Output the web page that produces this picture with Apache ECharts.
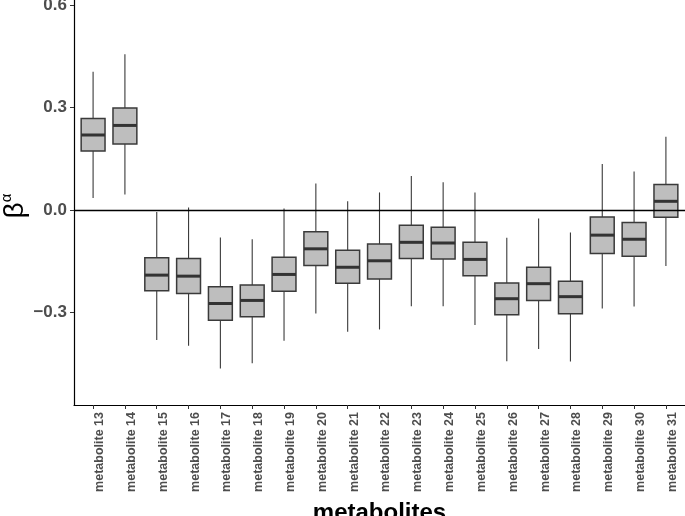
<!DOCTYPE html>
<html>
<head>
<meta charset="utf-8">
<script src="https://cdn.jsdelivr.net/npm/echarts@6/dist/echarts.min.js"></script>
<style>html,body{margin:0;padding:0;background:#fff}#c{width:685px;height:516px}</style>
</head>
<body>
<div id="c"></div>
<script>
const categories = ['metabolite 13','metabolite 14','metabolite 15','metabolite 16','metabolite 17','metabolite 18','metabolite 19','metabolite 20','metabolite 21','metabolite 22','metabolite 23','metabolite 24','metabolite 25','metabolite 26','metabolite 27','metabolite 28','metabolite 29','metabolite 30','metabolite 31'];
const whiskerLow  = [0.036, 0.046, -0.380, -0.397, -0.463, -0.448, -0.382, -0.302, -0.356, -0.349, -0.281, -0.281, -0.336, -0.442, -0.406, -0.443, -0.288, -0.282, -0.163];
const q1          = [0.173, 0.194, -0.236, -0.244, -0.322, -0.312, -0.237, -0.162, -0.214, -0.201, -0.141, -0.143, -0.192, -0.306, -0.264, -0.303, -0.127, -0.135, -0.021];
const median      = [0.220, 0.248, -0.190, -0.193, -0.273, -0.264, -0.188, -0.113, -0.167, -0.148, -0.094, -0.096, -0.144, -0.259, -0.215, -0.253, -0.073, -0.085, 0.026];
const q3          = [0.268, 0.299, -0.139, -0.141, -0.224, -0.219, -0.138, -0.063, -0.117, -0.099, -0.044, -0.050, -0.094, -0.213, -0.167, -0.208, -0.020, -0.036, 0.075];
const whiskerHigh = [0.405, 0.456, -0.005, 0.008, -0.080, -0.085, 0.005, 0.078, 0.026, 0.052, 0.100, 0.082, 0.052, -0.081, -0.024, -0.065, 0.135, 0.113, 0.215];
const yTicks = [-0.3, 0, 0.3, 0.6];

const catIndex = categories.map((c, i) => i);
const boxData = categories.map((c, i) => [i, whiskerLow[i], q1[i], median[i], q3[i], whiskerHigh[i]]);

function renderBox(params, api) {
  const x = api.value(0);
  const pLow = api.coord([x, api.value(1)]);
  const pQ1 = api.coord([x, api.value(2)]);
  const pMed = api.coord([x, api.value(3)]);
  const pQ3 = api.coord([x, api.value(4)]);
  const pHigh = api.coord([x, api.value(5)]);
  const bw = api.size([1, 0])[0] * 0.75;
  const cx = pMed[0];
  const stroke = '#3A3A3A';
  return {
    type: 'group',
    children: [
      { type: 'line', shape: { x1: cx, y1: pHigh[1], x2: cx, y2: pQ3[1] }, style: { stroke: stroke, lineWidth: 1.1 } },
      { type: 'line', shape: { x1: cx, y1: pQ1[1], x2: cx, y2: pLow[1] }, style: { stroke: stroke, lineWidth: 1.1 } },
      { type: 'rect', shape: { x: cx - bw / 2, y: pQ3[1], width: bw, height: pQ1[1] - pQ3[1] }, style: { fill: '#BEBEBE', stroke: stroke, lineWidth: 1.5 } },
      { type: 'line', shape: { x1: cx - bw / 2, y1: pMed[1], x2: cx + bw / 2, y2: pMed[1] }, style: { stroke: '#333333', lineWidth: 3 } }
    ]
  };
}

const chart = echarts.init(document.getElementById('c'));
const fontFam = '"Liberation Sans", Arial, sans-serif';
chart.setOption({
  animation: false,
  grid: { left: 74, right: 0, top: 0, bottom: 111, outerBoundsMode: 'none', containLabel: false },
  graphic: [{
    type: 'text',
    x: 15,
    y: 206,
    rotation: Math.PI / 2,
    silent: true,
    style: {
      text: '{b|\u03B2}{s|\u03B1}',
      align: 'center',
      verticalAlign: 'middle',
      rich: {
        b: { fontSize: 28, fill: '#000', fontFamily: fontFam },
        s: { fontSize: 15, fill: '#000', fontFamily: fontFam, verticalAlign: 'top', padding: [0, 0, 16, 0] }
      }
    }
  }],
  xAxis: {
    type: 'value',
    min: -0.6,
    max: categories.length - 1 + 0.6,
    axisLine: { show: true, onZero: false, lineStyle: { color: '#000', width: 1.2 } },
    axisTick: { show: true, length: 4, customValues: catIndex, lineStyle: { color: '#333' } },
    axisLabel: {
      customValues: catIndex,
      formatter: v => categories[Math.round(v)],
      rotate: 90, color: '#4D4D4D', fontWeight: 'bold', fontSize: 12.5, fontFamily: fontFam, margin: 7,
      verticalAlign: 'top'
    },
    splitLine: { show: false },
    name: 'metabolites',
    nameLocation: 'middle',
    nameGap: 96,
    nameTextStyle: { color: '#000', fontWeight: 'bold', fontSize: 24, fontFamily: fontFam }
  },
  yAxis: {
    type: 'value',
    min: -0.57,
    max: 0.615,
    axisLine: { show: true, onZero: false, lineStyle: { color: '#000', width: 1.2 } },
    axisTick: { show: true, length: 4, customValues: yTicks, lineStyle: { color: '#333' } },
    axisLabel: {
      customValues: yTicks,
      color: '#4D4D4D', fontWeight: 'bold', fontSize: 17, fontFamily: fontFam, margin: 7,
      formatter: v => (v < 0 ? '\u2212' + Math.abs(v).toFixed(1) : v.toFixed(1))
    },
    splitLine: { show: false }
  },
  series: [
    {
      type: 'custom',
      data: boxData,
      renderItem: renderBox,
      encode: { x: 0, y: [1, 2, 3, 4, 5] },
      silent: true,
      z: 2
    },
    {
      type: 'scatter',
      data: [],
      silent: true,
      z: 5,
      markLine: {
        silent: true,
        symbol: 'none',
        label: { show: false },
        lineStyle: { color: '#000', width: 1.3, type: 'solid' },
        data: [{ yAxis: 0 }]
      }
    }
  ]
});
</script>
</body>
</html>
